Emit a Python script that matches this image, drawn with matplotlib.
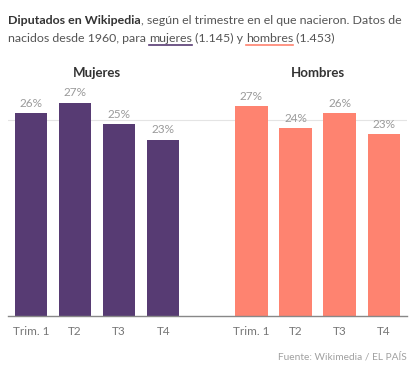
import numpy as np
import matplotlib
matplotlib.use('Agg')
import matplotlib.pyplot as plt

# datos
trimestres = ['Trim. 1', 'T2', 'T3', 'T4']
mujeres = [25.9, 27.2, 24.5, 22.5]
hombres = [26.8, 24.0, 25.9, 23.2]
etiq_mujeres = ['26%', '27%', '25%', '23%']
etiq_hombres = ['27%', '24%', '26%', '23%']

c_muj = '#573b73'
c_hom = '#fe8370'

plt.rcParams['font.family'] = ['Lato', 'DejaVu Sans']

W, H = 414, 372
fig = plt.figure(figsize=(W/100, H/100), dpi=100)

# axes: baseline at y=316, 0..30% -> top at ~81
ax = fig.add_axes([8/W, 1-316.3/H, 399/W, (316.3-80.8)/H])
x_m = np.arange(4)
x_h = np.arange(4) + 5
ax.bar(x_m, mujeres, width=0.735, color=c_muj, zorder=2)
ax.bar(x_h, hombres, width=0.735, color=c_hom, zorder=2)
ax.axhline(25, color='#e4e4e4', lw=0.8, zorder=1)

for xs, vals, labs in [(x_m, mujeres, etiq_mujeres), (x_h, hombres, etiq_hombres)]:
    for xi, v, l in zip(xs, vals, labs):
        ax.text(xi, v + 1.25, l, ha='center', va='center', fontsize=8.5,
                color='#9a9a9a')

ax.set_xlim(-0.518, 8.525)
ax.set_ylim(0, 30)
ax.set_xticks(list(x_m) + list(x_h))
ax.set_xticklabels(trimestres + trimestres, fontsize=8.5, color='#777777')
ax.tick_params(axis='x', length=0, pad=7)
ax.set_yticks([])
for s in ['top', 'right', 'left']:
    ax.spines[s].set_visible(False)
ax.spines['bottom'].set_color('#888888')
ax.spines['bottom'].set_linewidth(1.0)

# títulos de panel
ax.text(1.5, 31.0, 'Mujeres', ha='center', va='center', fontsize=9.5,
        weight='bold', color='#333333')
ax.text(6.5, 31.0, 'Hombres', ha='center', va='center', fontsize=9.5,
        weight='bold', color='#333333')

# título con partes en negrita y subrayadas
renderer = fig.canvas.get_renderer()

def ancho(s, **kw):
    t = fig.text(0, 0, s + '|', **kw)
    b = fig.text(0, 0, '|', **kw)
    w = t.get_window_extent(renderer).width - b.get_window_extent(renderer).width
    t.remove()
    b.remove()
    return w

lineas = [
    [('Diputados en Wikipedia', 'bold', '#333333', None),
     (', según el trimestre en el que nacieron. Datos de', 'normal', '#555555', None)],
    [('nacidos desde 1960, para ', 'normal', '#555555', None),
     ('mujeres', 'normal', '#555555', c_muj),
     (' (1.145) y ', 'normal', '#555555', None),
     ('hombres', 'normal', '#555555', c_hom),
     (' (1.453)', 'normal', '#555555', None)],
]

# ajustar tamaño para que la primera línea ocupe ~396 px
fs = 10
w1 = sum(ancho(t, fontsize=fs, weight=wg) for t, wg, _, _ in lineas[0])
fs = fs * 396 / w1

ys = [24, 41.7]
for y, partes in zip(ys, lineas):
    x = 8
    for txt, wgt, col, sub in partes:
        kw = dict(fontsize=fs, weight=wgt)
        w = ancho(txt, **kw)
        fig.text(x/W, 1-y/H, txt, color=col, va='baseline', ha='left', **kw)
        if sub is not None:
            fig.add_artist(plt.Line2D([x/W, (x+w)/W], [1-(y+2.8)/H]*2,
                                      color=sub, lw=1.2))
        x += w

fig.text(407/W, 1-360/H, 'Fuente: Wikimedia / EL PAÍS', ha='right',
         va='baseline', fontsize=7.3, color='#a0a0a0')

fig.savefig('out.png', dpi=100)
